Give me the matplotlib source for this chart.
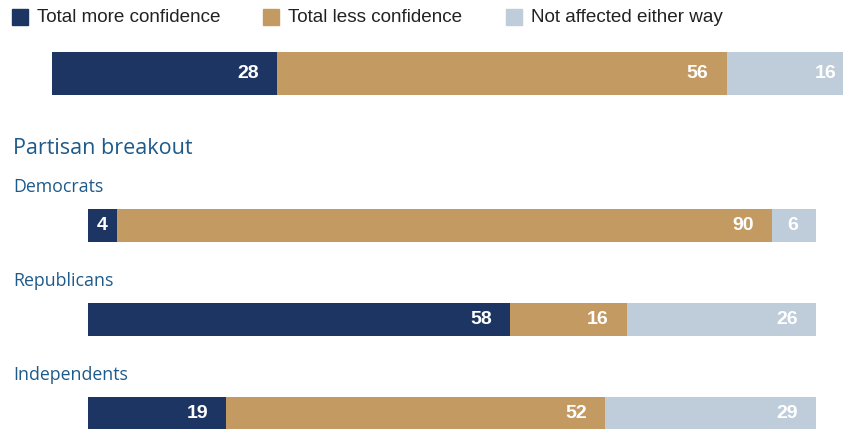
import matplotlib
matplotlib.use("Agg")
import matplotlib.pyplot as plt
from matplotlib import font_manager
from matplotlib.patches import Rectangle

# data
SERIES = ["Total more confidence", "Total less confidence", "Not affected either way"]
COLORS = ["#1d3562", "#c49a63", "#bfcddb"]
OVERALL = [28, 56, 16]
GROUPS = ["Democrats", "Republicans", "Independents"]
MORE = [4, 58, 19]
LESS = [90, 16, 52]
NOT_AFFECTED = [6, 26, 29]

names = {f.name for f in font_manager.fontManager.ttflist}
NARROW = "Liberation Sans Narrow" if "Liberation Sans Narrow" in names else "Liberation Sans"
REG = "Open Sans"

W, H = 843, 429
fig = plt.figure(figsize=(W / 100, H / 100), dpi=100)


def px_axes(left, top, width, height):
    return fig.add_axes([left / W, (H - top - height) / H, width / W, height / H])


def label_segments(ax, y, values, min_width=5):
    start = 0
    for v in values:
        if v < min_width:
            ax.text(start + v / 2, y, str(v), ha="center", va="center",
                    color="white", fontsize=14, fontweight="bold", family=NARROW)
        else:
            ax.annotate(str(v), (start + v, y), xytext=(-13, 0), textcoords="offset points",
                        ha="right", va="center", color="white", fontsize=14,
                        fontweight="bold", family=NARROW)
        start += v


# legend
lx = [12, 263, 506]
for x, name, c in zip(lx, SERIES, COLORS):
    fig.patches.append(Rectangle((x / W, (H - 25) / H), 16 / W, 16 / H,
                                 transform=fig.transFigure, color=c))
    fig.text((x + 25) / W, (H - 17) / H, name, ha="left", va="center",
             fontsize=13.6, family=NARROW, color="#222222")

# overall bar
ax0 = px_axes(52, 52, 100 * 8.03, 43)
left = 0
for v, c in zip(OVERALL, COLORS):
    ax0.barh(0, v, left=left, height=1, color=c)
    left += v
label_segments(ax0, 0, OVERALL)
ax0.set_xlim(0, 100)
ax0.set_ylim(-0.5, 0.5)
ax0.axis("off")

fig.text(13 / W, (H - 148) / H, "Partisan breakout", ha="left", va="center",
         fontsize=15.5, family=REG, color="#1e5a8a")

# partisan bars
ax1 = px_axes(88, 178.5, 728, 251)
ypos = list(range(len(GROUPS)))
lefts = [0] * len(GROUPS)
for vals, c in zip([MORE, LESS, NOT_AFFECTED], COLORS):
    ax1.barh(ypos, vals, left=lefts, height=0.351, color=c)
    lefts = [a + b for a, b in zip(lefts, vals)]
for i in ypos:
    label_segments(ax1, i, [MORE[i], LESS[i], NOT_AFFECTED[i]])
ax1.set_xlim(0, 100)
ax1.set_ylim(2.17, -0.5)
ax1.axis("off")

for i, g in enumerate(GROUPS):
    ax1.annotate(g, (0, i), xycoords=("figure fraction", "data"), xytext=(13 * 0.72, 28),
                 textcoords="offset points", ha="left", va="center",
                 fontsize=12.8, family=REG, color="#1e5a8a")

fig.savefig("out.png", dpi=100)
